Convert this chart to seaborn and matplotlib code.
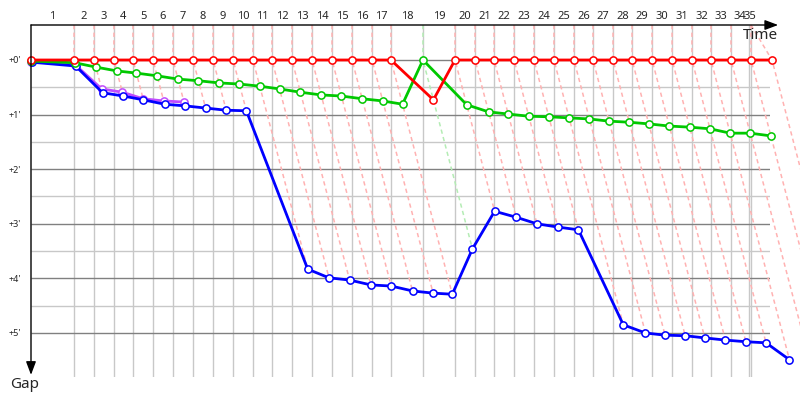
import matplotlib
matplotlib.use("Agg")
import matplotlib.pyplot as plt
import seaborn as sns

# ---- data -------------------------------------------------------------
# leader's cumulative race time (minutes) at end of each lap, index = lap (0 = start)
leader_time = [0.00, 3.01, 4.41, 5.80, 7.13, 8.53, 9.93, 11.33, 12.73, 14.13,
               15.52, 16.85, 18.25, 19.65, 21.05, 22.45, 23.85, 25.17, 27.41, 29.65,
               31.05, 32.38, 33.78, 35.17, 36.57, 37.97, 39.30, 40.70, 42.03, 43.43,
               44.83, 46.22, 47.55, 48.95, 50.35, 51.82]
time_limit = 50.21
lap_labels = [str(i) for i in range(1, 36)]
gap_ticks = [0, 1, 2, 3, 4, 5]
gap_tick_labels = ["+0'", "+1'", "+2'", "+3'", "+4'", "+5'"]

# gap to leader (minutes) at the end of each lap
gap_red = [0, 0, 0, 0, 0, 0, 0, 0, 0, 0, 0, 0, 0, 0, 0, 0, 0, 0, 0.73,
           0, 0, 0, 0, 0, 0, 0, 0, 0, 0, 0, 0, 0, 0, 0, 0, 0]
gap_green = [0.02, 0.05, 0.13, 0.20, 0.24, 0.29, 0.35, 0.38, 0.42, 0.44, 0.48, 0.53,
             0.59, 0.64, 0.66, 0.71, 0.75, 0.81, 0.00, 0.82, 0.95, 0.99, 1.03, 1.04,
             1.06, 1.08, 1.12, 1.14, 1.17, 1.21, 1.23, 1.26, 1.34, 1.34, 1.39]
gap_blue = [0.04, 0.11, 0.60, 0.66, 0.73, 0.81, 0.84, 0.88, 0.92, 0.93, 3.83, 3.99,
            4.03, 4.12, 4.14, 4.23, 4.27, 4.29, 3.46, 2.77, 2.88, 3.00, 3.06, 3.11,
            4.85, 5.00, 5.04, 5.05, 5.09, 5.13, 5.16, 5.18, 5.49]
gap_purple = [0.03, 0.09, 0.53, 0.59, 0.71, 0.75, 0.77]

cars = [("purple", gap_purple, "#c04cff", False),
        ("blue", gap_blue, "#0000ff", True),
        ("green", gap_green, "#00c800", True),
        ("red", gap_red, "#ff0000", True)]
light = {"red": "#ffb2b2", "green": "#b4ecb4", "blue": "#b2b2ff", "purple": "#e8c0ff"}

# ---- style --------------------------------------------------------------
sns.set_style("white")
plt.rcParams["font.family"] = ["Noto Sans", "DejaVu Sans"]

fig = plt.figure(figsize=(8, 4), dpi=100)
ax = fig.add_axes([31 / 800, 1 - 377 / 400, 739 / 800, 352 / 400])
xmax = 739 / 14.3
ytop, ybot = -0.641, 5.806

# grid
grid_times = sorted(leader_time[:35] + [time_limit])
ax.vlines(grid_times[1:], ybot, ytop, color="#c8c8c8", lw=1, zorder=0.5)
ax.hlines([g + 0.5 for g in gap_ticks[:-1]], 0, xmax, color="#c8c8c8", lw=1, zorder=0.6)
ax.hlines(gap_ticks, 0, xmax, color="#808080", lw=1, zorder=0.7)

# lap lines (dashed)
running = [c for c in cars if c[3]]
for k in range(1, len(leader_time)):
    t = leader_time[k]
    leader = [name for name, g, col, r in cars if len(g) > k and g[k] == 0][0]
    done = [g[k] for name, g, col, r in cars if len(g) > k]
    if all(len(g) > k for name, g, col, r in running):
        gend = max(done)
    else:
        gend = ybot
    xt = min(t, leader_time[34])
    ax.plot([xt, t, t + gend], [ytop, 0, gend], color=light[leader], lw=1.1,
            ls=(0, (2.8, 2.2)), zorder=1, clip_on=False)

# car lines
for i, (name, g, col, r) in enumerate(cars):
    xs = [leader_time[k] + g[k] for k in range(len(g))]
    sns.lineplot(x=xs, y=g, color=col, linewidth=2.0, marker="o", markersize=5.2,
                 markerfacecolor="white", markeredgecolor=col, markeredgewidth=1.1,
                 sort=False, estimator=None, ax=ax, clip_on=False, zorder=3 + i)

ax.set_xlim(0, xmax)
ax.set_ylim(ybot, ytop)
for s in ax.spines.values():
    s.set_visible(False)
ax.set_xlabel("")
ax.set_ylabel("")

mids = [(a + b) / 2 for a, b in zip(grid_times[:-1], grid_times[1:])]
ax.xaxis.tick_top()
ax.set_xticks(mids)
ax.set_xticklabels(lap_labels)
ax.tick_params(axis="x", length=0, pad=2, labelsize=8)
ax.set_yticks(gap_ticks)
ax.set_yticklabels(gap_tick_labels)
ax.tick_params(axis="y", length=0, pad=7, labelsize=6.5)

# axis arrows
ax.annotate("", xy=(1.011, 1), xytext=(0, 1), xycoords="axes fraction",
            arrowprops=dict(arrowstyle="-|>,head_length=0.8,head_width=0.3",
                            color="black", lw=1.0, shrinkA=0, shrinkB=0),
            annotation_clip=False, zorder=10)
ax.annotate("", xy=(0, 0.006), xytext=(0, 1), xycoords="axes fraction",
            arrowprops=dict(arrowstyle="-|>,head_length=0.8,head_width=0.3",
                            color="black", lw=1.0, shrinkA=0, shrinkB=0),
            annotation_clip=False, zorder=10)
fig.text(760 / 800, 1 - 35.5 / 400, "Time", ha="center", va="center", fontsize=11)
fig.text(25 / 800, 1 - 384 / 400, "Gap", ha="center", va="center", fontsize=11)

fig.savefig("out.png", dpi=100, facecolor="white")
